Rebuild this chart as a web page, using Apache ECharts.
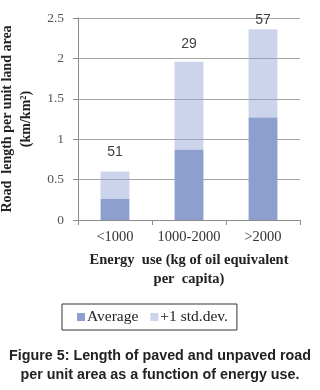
<!DOCTYPE html>
<html>
<head>
<meta charset="utf-8">
<script src="https://cdn.jsdelivr.net/npm/echarts@6/dist/echarts.min.js"></script>
<style>
    html, body { margin: 0; padding: 0; background: #fff; }
    #chart { width: 320px; height: 390px; }
</style>
</head>
<body>
<div id="chart"></div>
<script>
    // values
    const categories = ['<1000', '1000-2000', '>2000'];
    const average = [0.26, 0.87, 1.27];
    const stdDev = [0.34, 1.09, 1.09];      // stacked on top of average
    const counts = [51, 29, 57];
    const yTicks = [0, 0.5, 1, 1.5, 2, 2.5];

    const serif = '"Liberation Serif", "DejaVu Serif", serif';
    const labelGap = [12, 10, 2];

    const myChart = echarts.init(document.getElementById('chart'));
    myChart.setOption({
        animation: false,
        grid: { left: 78, right: 20, top: 18, bottom: 170, containLabel: false, outerBoundsMode: 'none' },
        legend: {
            data: ['Average', '+1 std.dev.'],
            left: 62,
            top: 304,
            orient: 'horizontal',
            icon: 'rect',
            itemWidth: 8,
            itemHeight: 8,
            itemGap: 12,
            padding: [4, 9, 4, 15],
            borderColor: '#333',
            borderWidth: 1,
            borderRadius: 0,
            textStyle: { fontFamily: serif, fontSize: 15.5, lineHeight: 18, color: '#222', padding: [0, 0, 0, -3] }
        },
        xAxis: {
            type: 'category',
            data: categories,
            axisLine: { lineStyle: { color: '#8c8c8c' } },
            axisTick: { show: true, length: 5, lineStyle: { color: '#8c8c8c' } },
            axisLabel: {
                interval: 0, hideOverlap: false,
                fontFamily: serif, fontSize: 14.5, color: '#333', margin: 10
            },
            name: 'Energy  use (kg of oil equivalent\nper  capita)',
            nameLocation: 'middle',
            nameGap: 31,
            nameTextStyle: {
                fontFamily: serif, fontSize: 14.5, fontWeight: 'bold', color: '#222',
                lineHeight: 19, verticalAlign: 'top'
            }
        },
        yAxis: {
            type: 'value',
            min: yTicks[0],
            max: yTicks[yTicks.length - 1],
            interval: 0.5,
            axisLine: { show: true, lineStyle: { color: '#8c8c8c' } },
            axisTick: { show: true, length: 5, lineStyle: { color: '#8c8c8c' } },
            splitLine: { lineStyle: { color: '#a6a6a6' } },
            axisLabel: { fontFamily: serif, fontSize: 13.5, color: '#555', margin: 14 },
            name: 'Road  length per unit land area\n(km/km²)',
            nameLocation: 'middle',
            nameRotate: 90,
            nameGap: 33,
            nameTextStyle: {
                fontFamily: serif, fontSize: 14, fontWeight: 'bold', color: '#222',
                lineHeight: 19
            }
        },
        series: [
            {
                name: 'Average',
                type: 'bar',
                stack: 'total',
                barWidth: '39%',
                itemStyle: { color: '#8c9fcf' },
                data: average
            },
            {
                name: '+1 std.dev.',
                type: 'bar',
                stack: 'total',
                barWidth: '39%',
                itemStyle: { color: 'rgba(140,160,210,0.45)' },
                data: stdDev.map(function (v, i) {
                    return {
                        value: v,
                        label: {
                            show: true,
                            position: 'top',
                            distance: labelGap[i],
                            formatter: String(counts[i]),
                            fontFamily: '"Liberation Sans", Arial, sans-serif',
                            fontSize: 14,
                            color: '#404040'
                        }
                    };
                })
            }
        ],
        graphic: [{
            type: 'text',
            left: 'center',
            top: 347,
            style: {
                text: 'Figure 5: Length of paved and unpaved road\nper unit area as a function of energy use.',
                font: 'bold 14.3px "Liberation Sans", Arial, sans-serif',
                fill: '#222',
                textAlign: 'center',
                lineHeight: 19
            }
        }]
    });
</script>
</body>
</html>
